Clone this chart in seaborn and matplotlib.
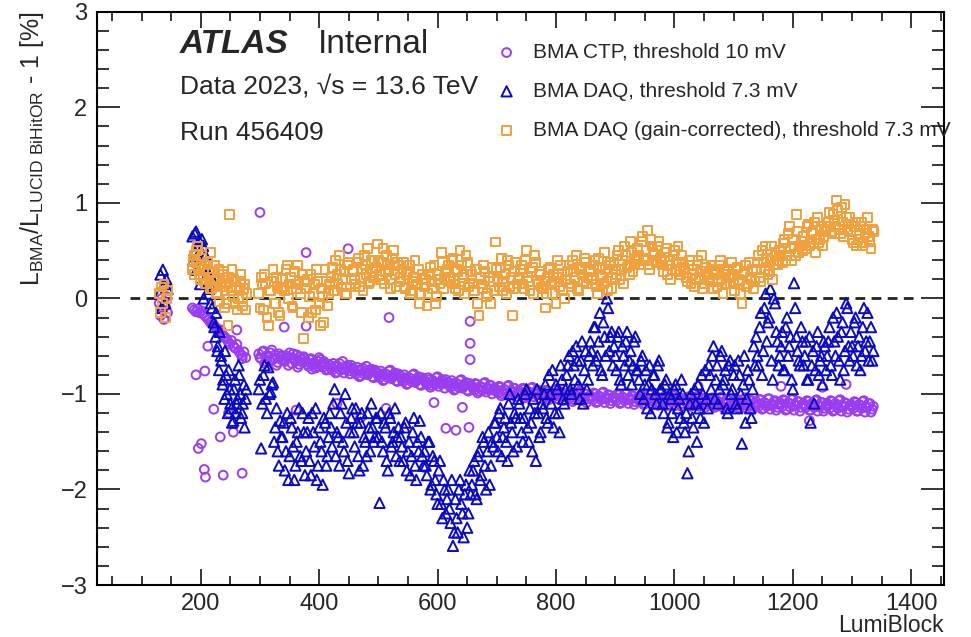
import numpy as np
import pandas as pd
import matplotlib
matplotlib.use("Agg")
import matplotlib.pyplot as plt
from matplotlib.ticker import MultipleLocator
import seaborn as sns

# lumiblock segments: (first LB, step)
seg_a = (130, 2)
seg_b = (186, 3)
seg_b2 = (187, 3)
seg_c = (298, 4)
seg_c2 = (300, 4)

# values in units of 0.01 % (ratio - 1)
# --- BMA CTP, threshold 10 mV ---
ctp_a = [-5, -18, 0, -12, -22, -8, 2, -15]
ctp_b = [-10, -12, -14, -11, -15, -13, -16, -18, -20, -22, -25, -24, -28, -30, -32,
         -35, -33, -38, -40, -42, -45, -48, -44, -50, -52, -48, -55, -58, -60, -56, -62]
ctp_c = [
    [-58, -63, -55, -66, -60, -57, -64, -59, -67, -61],
    [-60, -66, -62, -57, -68, -63, -59, -69, -64, -61],
    [-66, -71, -63, -69, -73, -66, -64, -72, -68, -74],
    [-70, -75, -71, -77, -68, -73, -78, -72, -76, -70],
    [-74, -79, -75, -81, -73, -77, -80, -76, -82, -75],
    [-78, -83, -79, -85, -80, -76, -84, -81, -86, -79],
    [-82, -87, -83, -89, -84, -80, -88, -85, -90, -83],
    [-86, -90, -85, -91, -88, -83, -92, -87, -89, -85],
    [-88, -93, -89, -95, -90, -86, -94, -91, -96, -89],
    [-92, -96, -90, -97, -93, -89, -98, -94, -91, -96],
    [-95, -99, -93, -100, -96, -92, -101, -97, -94, -99],
    [-97, -101, -95, -102, -98, -94, -103, -99, -96, -101],
    [-99, -103, -97, -104, -100, -96, -105, -101, -98, -103],
    [-100, -105, -99, -106, -102, -98, -107, -103, -100, -105],
    [-102, -106, -100, -108, -103, -99, -109, -104, -101, -107],
    [-103, -107, -101, -109, -104, -100, -110, -105, -102, -108],
    [-104, -108, -102, -110, -105, -101, -111, -106, -103, -109],
    [-105, -109, -103, -111, -106, -102, -112, -107, -104, -110],
    [-106, -110, -104, -112, -107, -103, -113, -108, -105, -111],
    [-107, -111, -105, -113, -108, -104, -114, -109, -106, -112],
    [-108, -112, -106, -114, -109, -105, -115, -110, -107, -113],
    [-108, -113, -106, -115, -110, -105, -116, -111, -107, -114],
    [-109, -113, -107, -116, -110, -106, -117, -112, -108, -114],
    [-110, -114, -108, -117, -111, -107, -118, -113, -109, -115],
    [-110, -115, -108, -117, -112, -107, -118, -113, -110, -116],
    [-111, -115, -109, -118, -112, -108, -119, -114, -110, -116],
]
ctp_c2 = [
    [-62, -56, -68, -60, -65, -54, -62, -70, -58, -64],
    [-65, -60, -70, -62, -58, -66, -72, -61, -67, -63],
    [-69, -64, -74, -67, -71, -62, -70, -66, -75, -69],
    [-73, -68, -78, -71, -75, -66, -74, -70, -79, -73],
    [-77, -72, -82, -75, -79, -71, -78, -74, -83, -77],
    [-81, -76, -86, -79, -83, -75, -82, -78, -87, -81],
    [-85, -80, -90, -83, -87, -79, -86, -82, -91, -85],
    [-88, -83, -93, -86, -90, -82, -89, -85, -94, -88],
    [-91, -86, -96, -89, -93, -85, -92, -88, -97, -91],
    [-94, -89, -99, -92, -96, -88, -95, -91, -100, -94],
    [-97, -92, -102, -95, -99, -91, -98, -94, -103, -97],
    [-99, -94, -104, -97, -101, -93, -100, -96, -105, -99],
    [-101, -96, -106, -99, -103, -95, -102, -98, -107, -101],
    [-103, -98, -108, -101, -105, -97, -104, -100, -109, -103],
    [-104, -99, -109, -102, -106, -98, -105, -101, -110, -104],
    [-105, -100, -110, -103, -107, -99, -106, -102, -111, -105],
    [-106, -101, -111, -104, -108, -100, -107, -103, -112, -106],
    [-107, -102, -112, -105, -109, -101, -108, -104, -113, -107],
    [-108, -103, -113, -106, -110, -102, -109, -105, -114, -108],
    [-109, -104, -114, -107, -111, -103, -110, -106, -115, -109],
    [-110, -105, -115, -108, -112, -104, -111, -107, -116, -110],
    [-111, -106, -116, -109, -113, -105, -112, -108, -117, -111],
    [-111, -106, -117, -109, -114, -105, -112, -108, -118, -111],
    [-112, -107, -117, -110, -114, -106, -113, -109, -118, -112],
    [-112, -107, -118, -110, -115, -106, -113, -109, -119, -112],
    [-113, -108, -118, -111, -115, -107, -114, -110, -119, -113],
]
ctp_out_lb = [192, 196, 201, 206, 208, 207, 212, 222, 233, 238, 247, 255, 261, 270, 270,
              300, 341, 361, 378, 378, 430, 449, 470, 513, 518, 578, 594, 614, 631, 642,
              653, 655, 655, 655, 1040, 1180, 1228, 1250, 1290]
ctp_out_y = [-80, -157, -152, -179, -187, -76, -50, -116, -145, -185, -120, -140, -33, -63, -183,
             90, -30, -117, 48, -29, -110, 52, -125, -115, -20, -177, -109, -136, -138, -114,
             -135, -24, -47, -64, -92, -92, -128, -93, -90]

# --- BMA DAQ, threshold 7.3 mV ---
daq_a = [5, 25, -10, 30, 15, -5, 20, 10]
daq_b = [65, 50, 70, 45, 60, 35, 55, 20, 30, 5, 15, -10, -25, -40, -55, -75, -60, -90,
         -105, -80, -120, -95, -115, -128, -85, -110, -70, -100, -120, -90, -105]
daq_b2 = [40, 68, 30, 55, 15, 62, 0, 45, 25, 10, -5, 20, -30, -15, -50, -35, -65, -85,
          -55, -100, -75, -110, -130, -95, -120, -105, -80, -125, -110, -135, -95]
daq_c = [
    [-95, -157, -80, -105, -72, -98, -88, -135, -160, -128],
    [-145, -180, -120, -165, -135, -190, -150, -115, -170, -140],
    [-160, -125, -185, -140, -115, -175, -150, -195, -130, -165],
    [-120, -155, -95, -140, -175, -110, -160, -130, -183, -125],
    [-140, -115, -165, -130, -175, -150, -120, -160, -135, -145],
    [-125, -214, -150, -130, -170, -120, -155, -140, -165, -135],
    [-145, -170, -130, -160, -185, -140, -175, -150, -128, -165],
    [-160, -185, -150, -195, -170, -205, -180, -215, -190, -225],
    [-200, -235, -259, -210, -245, -190, -225, -205, -240, -180],
    [-195, -170, -210, -160, -185, -150, -200, -140, -175, -155],
    [-130, -160, -115, -145, -125, -170, -100, -140, -120, -155],
    [-110, -140, -125, -95, -150, -130, -105, -170, -120, -140],
    [-115, -90, -130, -100, -75, -120, -95, -140, -85, -110],
    [-80, -60, -100, -70, -50, -90, -65, -110, -55, -85],
    [-45, -70, -30, -60, -15, -80, -40, 0, -55, -35],
    [-50, -75, -35, -90, -60, -45, -80, -55, -70, -40],
    [-75, -100, -60, -90, -115, -70, -95, -80, -110, -65],
    [-95, -120, -85, -130, -105, -145, -90, -115, -125, -100],
    [-140, -183, -110, -125, -95, -150, -115, -80, -130, -105],
    [-70, -95, -50, -85, -110, -60, -90, -75, -120, -65],
    [-95, -70, -115, -80, -152, -60, -105, -85, -125, -50],
    [-40, -70, -15, -55, 5, -25, 10, -85, -5, -45],
    [-60, -35, -75, -20, -50, -85, 16, -40, -65, -30],
    [-70, -45, -85, -130, -55, -75, -35, -65, -90, -50],
    [-60, -30, -80, -45, -15, -65, -35, -75, -5, -50],
    [-35, -60, -20, -50, -75, -30, -55, -15, -45, -65],
]
daq_c2 = [
    [-85, -110, -70, -120, -100, -90, -150, -115, -175, -145],
    [-130, -160, -190, -125, -155, -175, -140, -165, -120, -185],
    [-140, -170, -120, -155, -190, -135, -160, -125, -175, -145],
    [-135, -110, -165, -145, -120, -150, -100, -170, -140, -115],
    [-155, -130, -180, -120, -145, -165, -135, -110, -150, -125],
    [-145, -120, -160, -135, -180, -125, -150, -115, -145, -170],
    [-155, -135, -180, -150, -165, -125, -190, -160, -145, -175],
    [-175, -150, -200, -165, -190, -215, -170, -230, -200, -210],
    [-220, -190, -245, -230, -200, -215, -250, -195, -225, -205],
    [-180, -205, -165, -190, -145, -175, -160, -195, -150, -130],
    [-145, -120, -165, -135, -150, -110, -130, -160, -125, -105],
    [-125, -150, -100, -135, -115, -160, -120, -95, -145, -110],
    [-100, -125, -80, -110, -135, -90, -120, -70, -105, -95],
    [-70, -95, -55, -85, -65, -105, -45, -75, -95, -60],
    [-55, -30, -65, -45, -75, -25, -60, -10, -40, -70],
    [-60, -40, -85, -50, -70, -35, -65, -90, -45, -75],
    [-85, -65, -105, -75, -90, -120, -80, -100, -70, -95],
    [-110, -90, -135, -100, -120, -95, -140, -105, -85, -130],
    [-120, -160, -100, -135, -110, -90, -125, -100, -75, -115],
    [-80, -60, -105, -70, -95, -55, -85, -115, -70, -100],
    [-80, -110, -65, -100, -90, -130, -75, -115, -95, -70],
    [-60, -30, -80, -10, -45, -20, -65, 0, -35, -70],
    [-50, -75, -30, -60, -40, -95, -10, -55, -70, -45],
    [-60, -85, -40, -70, -110, -50, -80, -60, -45, -75],
    [-45, -70, -20, -60, -40, -85, -25, -55, -10, -65],
    [-50, -25, -70, -40, -60, -10, -45, -65, -30, -55],
]

# --- BMA DAQ (gain-corrected), threshold 7.3 mV ---
gc_a = [5, -15, 12, -5, 15, -20, 0, 8]
gc_b = [30, 45, 38, 55, 25, 42, 20, 35, 15, 28, 48, 10, 22, 18, 5, 30, 12, 25, -10, 15,
        -28, 88, 8, 20, -5, 12, 0, 18, -8, 10, -12]
gc_b2 = [40, 25, 50, 32, 20, 45, 30, 15, 38, 22, 10, 28, 35, 5, 20, -3, 15, 28, 8, -5,
         22, 12, 30, 2, 18, -12, 8, 25, 0, 15, 5]
gc_c = [
    [5, 22, -12, 15, -28, 8, 30, -5, 12, -18],
    [20, 8, 35, 15, -8, 28, 10, 18, -15, -42],
    [10, -20, 25, 5, -12, 18, -28, 2, 30, -8],
    [15, 32, 8, 25, 45, 12, 28, 5, 38, 20],
    [30, 15, 42, 22, 8, 35, 52, 18, 28, 40],
    [57, 25, 38, 15, 45, 30, 20, 50, 12, 35],
    [22, 38, 10, 28, 5, 18, 40, 15, -5, 25],
    [12, -8, 25, 18, 35, 2, 20, 48, 10, 28],
    [35, 18, 42, 10, 28, 50, 22, 5, 38, 15],
    [25, 8, 30, -18, 15, 35, 2, 22, -5, 18],
    [59, 20, 32, 8, 25, 40, 12, -18, 28, 15],
    [22, 35, 10, 50, 18, 28, 5, 38, 15, 25],
    [10, -10, 22, 32, 5, 18, 40, 12, 25, 0],
    [20, 35, 12, 28, 45, 8, 30, 18, 38, 22],
    [28, 15, 40, 5, 32, 22, 48, 18, 35, 10],
    [38, 25, 50, 30, 15, 45, 35, 60, 28, 40],
    [52, 35, 65, 42, 71, 30, 55, 45, 38, 60],
    [40, 28, 52, 35, 20, 45, 30, 55, 25, 38],
    [30, 18, 40, 25, 12, 35, 22, 45, 15, 28],
    [22, 35, 10, 28, 18, 40, 5, 25, 30, 15],
    [25, 8, 32, 18, -5, 28, 12, 38, 20, 10],
    [30, 45, 18, 38, 55, 25, 40, 20, 48, 35],
    [50, 38, 62, 45, 75, 40, 55, 88, 48, 60],
    [65, 52, 78, 58, 70, 48, 85, 62, 55, 72],
    [75, 90, 68, 82, 103, 72, 95, 65, 85, 78],
    [70, 58, 80, 62, 75, 55, 68, 85, 60, 72],
]
gc_c2 = [
    [-10, 15, 25, -20, 8, 18, -5, 22, -15, 10],
    [12, 30, 0, 22, -10, 15, 35, 5, 25, 18],
    [20, 2, -15, 15, 30, -5, 10, -25, 18, 5],
    [22, 8, 40, 15, 30, 20, 5, 35, 12, 28],
    [20, 38, 12, 30, 45, 25, 15, 40, 22, 32],
    [40, 20, 52, 28, 35, 10, 42, 25, 38, 18],
    [30, 12, 25, 35, 8, 22, 15, 30, 5, 20],
    [20, 5, 32, 10, -5, 25, 15, 38, 22, 30],
    [22, 40, 15, 30, 8, 35, 25, 45, 12, 28],
    [15, 30, -5, 22, 10, 28, 5, 18, 32, 8],
    [30, 12, 42, 18, 5, 35, 22, 10, 38, 20],
    [30, 15, 40, 22, 8, 32, 45, 18, 28, 12],
    [18, 5, 30, 15, 25, -5, 22, 35, 8, 20],
    [28, 15, 40, 22, 10, 32, 25, 42, 15, 30],
    [20, 35, 12, 42, 25, 15, 30, 8, 38, 22],
    [30, 45, 20, 40, 55, 32, 25, 48, 35, 42],
    [45, 60, 40, 50, 35, 62, 48, 40, 55, 42],
    [35, 48, 25, 40, 30, 50, 38, 28, 45, 32],
    [22, 35, 15, 30, 20, 40, 28, 10, 32, 25],
    [18, 30, 25, 12, 35, 20, 28, 15, 22, 38],
    [15, 30, 20, 5, 25, 35, 15, 22, 30, 18],
    [38, 22, 50, 30, 42, 28, 55, 35, 45, 40],
    [45, 58, 40, 68, 52, 62, 45, 70, 55, 50],
    [60, 75, 55, 68, 80, 62, 58, 75, 65, 70],
    [80, 70, 88, 75, 92, 68, 80, 98, 72, 85],
    [62, 75, 55, 68, 80, 58, 72, 65, 52, 70],
]

labels = ["BMA CTP, threshold 10 mV",
          "BMA DAQ, threshold 7.3 mV",
          "BMA DAQ (gain-corrected), threshold 7.3 mV"]
colors = ["#9a3cf0", "#0a0ac0", "#f0a03c"]
markers = ["o", "^", "s"]
sizes = [40, 55, 40]


def seg(start_step, vals):
    vals = [v for row in vals for v in row] if vals and isinstance(vals[0], list) else list(vals)
    start, step = start_step
    return start + step * np.arange(len(vals)), vals


def build(parts, extra_lb=(), extra_y=()):
    lbs, ys = [], []
    for ss, vals in parts:
        lb, y = seg(ss, vals)
        lbs.append(lb)
        ys.extend(y)
    lbs.append(np.array(extra_lb, dtype=float))
    ys.extend(extra_y)
    return pd.DataFrame({"lb": np.concatenate(lbs), "ratio": np.array(ys, float) / 100.0})


frames = [
    build([(seg_a, ctp_a), (seg_b, ctp_b), (seg_c, ctp_c), (seg_c2, ctp_c2)], ctp_out_lb, ctp_out_y),
    build([(seg_a, daq_a), (seg_b, daq_b), (seg_b2, daq_b2), (seg_c, daq_c), (seg_c2, daq_c2)]),
    build([(seg_a, gc_a), (seg_b, gc_b), (seg_b2, gc_b2), (seg_c, gc_c), (seg_c2, gc_c2)]),
]

sns.set_style("ticks")
plt.rcParams["font.family"] = ["Liberation Sans", "DejaVu Sans"]
plt.rcParams["mathtext.fontset"] = "custom"
plt.rcParams["mathtext.rm"] = "Liberation Sans"
plt.rcParams["mathtext.it"] = "Liberation Sans:italic"

fig = plt.figure(figsize=(9.71, 6.37), dpi=100)
ax = fig.add_axes([0.100, 0.0816, 0.872, 0.8998])

ax.plot([80, 1410], [0, 0], color="#222222", lw=2.0, ls=(0, (3.5, 2.3)), zorder=2)

for df, lab, col, mk, sz in zip(frames, labels, colors, markers, sizes):
    sns.scatterplot(data=df, x="lb", y="ratio", ax=ax, marker=mk, s=sz,
                    color=col, facecolor="none", edgecolor=col, linewidth=1.4,
                    label=lab, zorder=3)

ax.set_xlim(25, 1455)
ax.set_ylim(-3, 3)
ax.xaxis.set_major_locator(MultipleLocator(200))
ax.xaxis.set_minor_locator(MultipleLocator(50))
ax.yaxis.set_major_locator(MultipleLocator(1))
ax.yaxis.set_minor_locator(MultipleLocator(0.2))
ax.tick_params(which="both", direction="in", top=True, right=True, width=1.1,
               labelsize=17, color="black")
ax.tick_params(axis="y", which="major", length=16.5, pad=7)
ax.tick_params(axis="y", which="minor", length=8.6)
ax.tick_params(axis="x", which="major", length=11.5, pad=6)
ax.tick_params(axis="x", which="minor", length=6.5)
for sp in ax.spines.values():
    sp.set_linewidth(1.5)
    sp.set_color("black")

ax.set_xlabel("LumiBlock", loc="right", fontsize=16.5)
ax.xaxis.set_label_coords(1.0, -0.05)
ax.set_ylabel(r"$\mathregular{L_{BMA}/L_{LUCID\ BiHitOR}}$ - 1 [%]", loc="top", fontsize=18)
ax.yaxis.set_label_coords(-0.06, 1.0)

leg = ax.legend(loc="upper left", bbox_to_anchor=(0.511, 0.9325), bbox_transform=fig.transFigure,
                frameon=False, fontsize=15, handlelength=1.0, handletextpad=0.75,
                labelspacing=0.95, borderpad=0, borderaxespad=0)

fig.text(0.1854, 0.9168, "ATLAS", fontsize=24, fontweight="bold", fontstyle="italic", va="baseline")
fig.text(0.3275, 0.9168, "Internal", fontsize=24, va="baseline")
fig.text(0.1854, 0.8509, "Data 2023, √s = 13.6 TeV", fontsize=19, va="baseline")
fig.text(0.1854, 0.7802, "Run 456409", fontsize=19, va="baseline")

fig.savefig("out.png", dpi=100)
